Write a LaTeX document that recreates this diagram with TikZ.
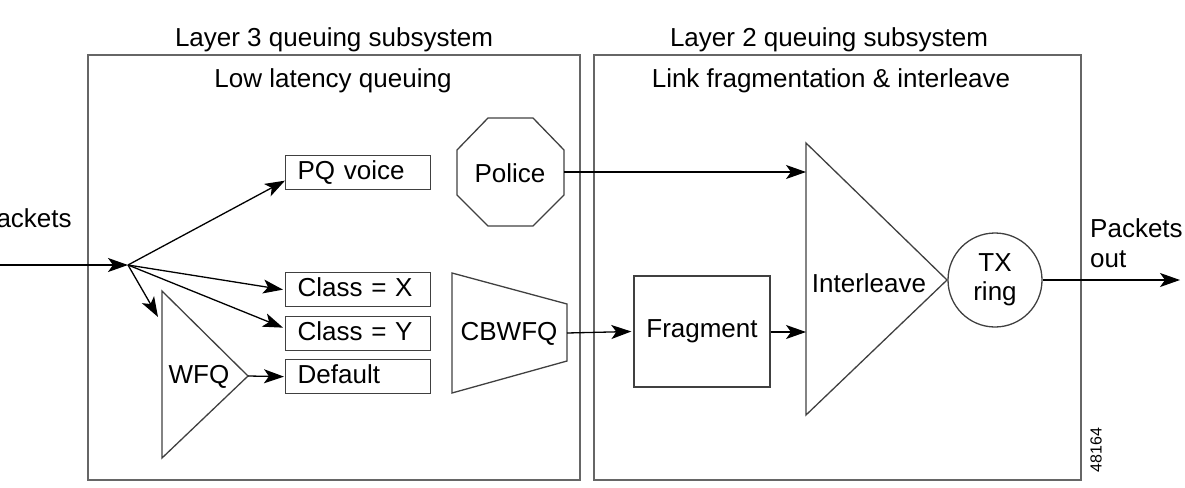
\documentclass[tikz,border=0pt]{standalone}
\usepackage{fontspec}
\setmainfont{Liberation Sans}
\usetikzlibrary{arrows.meta,calc}
\begin{document}
\begin{tikzpicture}[x=1pt,y=-1pt,
  frame/.style={draw=black!60, line width=1.5pt},
  shp/.style={draw=black!75, line width=1.3pt},
  lbl/.style={font=\fontsize{26}{30}\selectfont, inner sep=0pt},
  qbox/.style={shp, rectangle, anchor=north west, minimum width=145pt, minimum height=34pt,
    text width=121pt, inner xsep=12pt, inner ysep=0pt, align=left,
    text height=19pt, text depth=5pt, font=\fontsize{26}{30}\selectfont},
  arr/.style={line width=1.3pt, -{Stealth[length=20pt,width=14pt,inset=5pt]}},
]
\useasboundingbox (0,0) rectangle (1185,487);

% frames
\draw[frame] (88,55) rectangle (580,480);
\draw[frame] (594,55) rectangle (1081,480);

% titles
\node[lbl, anchor=base] (t3) at (334,47) {Layer 3 queuing subsystem};
\node[lbl, anchor=base] (t2) at (829,47) {Layer 2 queuing subsystem};
\node[lbl, anchor=base] (llq) at (333,88) {Low latency queuing};
\node[lbl, anchor=base] (lfi) at (831,88) {Link fragmentation \& interleave};

% packets in
\node[lbl, anchor=north west, align=left] (pin) at (-21,208) {Packets\\in};
\coordinate (inL) at (-10,265);
\coordinate (F) at (128,265);
\draw[arr] (inL) -- (F);

% queue boxes
\node[qbox] (pq) at (285,155) {PQ voice};
\node[qbox] (cx) at (285,272) {Class = X};
\node[qbox] (cy) at (285,316) {Class = Y};
\node[qbox] (def) at (285,359) {Default};

% WFQ triangle
\coordinate (wA) at (162,291);
\coordinate (wB) at (162,458);
\coordinate (wC) at (248,376);
\draw[shp] (wA) -- (wC) -- (wB) -- cycle;
\node[lbl] (wfq) at (199,377) {WFQ};
\coordinate (wIn) at (158,317);

% fan arrows
\draw[arr] (F) -- ([yshift=-8pt]pq.west);
\draw[arr] (F) -- ([xshift=-2pt]cx.west);
\draw[arr] (F) -- ([xshift=-2pt,yshift=6pt]cy.west);
\draw[arr] (F) -- (wIn);
\draw[arr] (wC) -- ([xshift=-1pt]def.west);

% Police octagon
\draw[shp] (488,118) -- (533,118) -- (564,150) -- (564,195) -- (533,226) -- (488,226) -- (457,195) -- (457,150) -- cycle;
\node[lbl] (pol) at (510,173) {Police};
\coordinate (polR) at (564,172);

% CBWFQ trapezoid
\draw[shp] (452,273) -- (567,304) -- (567,361) -- (452,393) -- cycle;
\node[lbl] (cbw) at (509,334) {CBWFQ};
\coordinate (cbR) at (567,333);

% Fragment
\node[shp, lbl, minimum width=136pt, minimum height=111pt] (frag) at (702,331.5) {Fragment};

% Interleave triangle
\coordinate (iT) at (806,143);
\coordinate (iB) at (806,415);
\coordinate (iR) at (947,280);
\draw[shp] (iT) -- (iR) -- (iB) -- cycle;
\node[lbl] (il) at (869,283) {Interleave};
\coordinate (ilIn1) at (806,172);
\coordinate (ilIn2) at (806,332);

% TX ring
\node[shp, circle, minimum size=94pt, inner sep=0pt, align=center,
  font=\fontsize{26}{29}\selectfont] (tx) at (995,280) {TX\\ring};

% connectors
\draw[arr] (polR) -- (ilIn1);
\draw[arr] (cbR) -- ([xshift=-2pt]frag.west);
\draw[arr] (frag.east |- ilIn2) -- (ilIn2);
\coordinate (out) at (1180,280);
\draw[arr] (tx.east) -- (out);

% packets out
\node[lbl, anchor=north west, align=left] (pout) at (1090,218) {Packets\\out};

% figure number
\node[font=\fontsize{16}{18}\selectfont, rotate=90, inner sep=0pt] (num) at (1096,450) {48164};
\end{tikzpicture}
\end{document}
